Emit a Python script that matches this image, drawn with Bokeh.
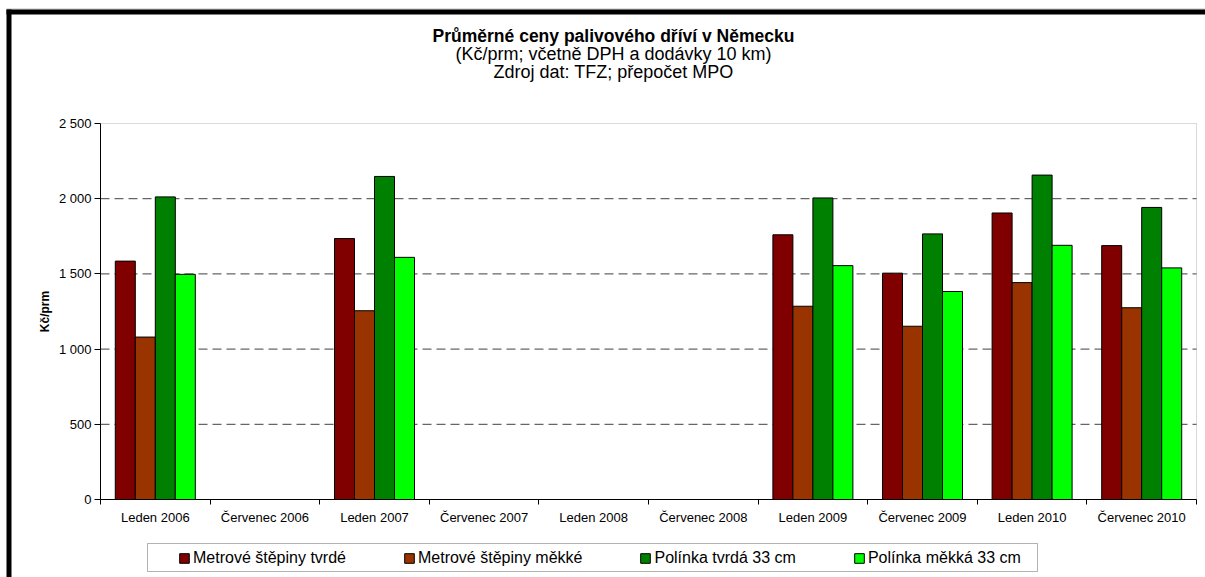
from bokeh.plotting import figure
from bokeh.models import (Range1d, FixedTicker, Label, BoxAnnotation, Legend,
                          LegendItem, ColumnDataSource)
from bokeh.transform import dodge
from bokeh.embed import file_html
from bokeh.resources import INLINE

NA = float("nan")

categories = ["Leden 2006", "Červenec 2006", "Leden 2007", "Červenec 2007",
              "Leden 2008", "Červenec 2008", "Leden 2009", "Červenec 2009",
              "Leden 2010", "Červenec 2010"]

series_names = ["Metrové štěpiny tvrdé", "Metrové štěpiny měkké",
                "Polínka tvrdá 33 cm", "Polínka měkká 33 cm"]

metrove_tvrde = [1585, NA, 1735, NA, NA, NA, 1760, 1505, 1905, 1688]
metrove_mekke = [1080, NA, 1255, NA, NA, NA, 1285, 1152, 1442, 1275]
polinka_tvrda = [2012, NA, 2148, NA, NA, NA, 2005, 1766, 2157, 1942]
polinka_mekka = [1497, NA, 1610, NA, NA, NA, 1555, 1383, 1690, 1540]

y_max = 2500
y_ticks = [0, 500, 1000, 1500, 2000, 2500]
y_tick_labels = ["0", "500", "1 000", "1 500", "2 000", "2 500"]
grid_values = [500, 1000, 1500, 2000]

colors = ["#800000", "#993300", "#008000", "#00FF00"]

title_lines = ["Průměrné ceny palivového dříví v Německu",
               "(Kč/prm; včetně DPH a dodávky 10 km)",
               "Zdroj dat: TFZ; přepočet MPO"]

FONT = "Liberation Sans"

# ---- layout (pixels) ----
W, H = 1205, 577
PL, PR, PT, PB = 100, 1196, 123, 499     # plot area edges

n = len(categories)
xu = n / (PR - PL)            # data units per pixel (x)
yu = y_max / (PB - PT)        # data units per pixel (y)
x_range = Range1d(-PL * xu, n + (W - PR) * xu)
y_range = Range1d(-(H - PB) * yu, y_max + PT * yu)

xc = [i + 0.5 for i in range(n)]
src = ColumnDataSource(dict(xc=xc, s0=metrove_tvrde, s1=metrove_mekke,
                            s2=polinka_tvrda, s3=polinka_mekka))

p = figure(width=W, height=H, output_backend="svg", toolbar_location=None,
           x_range=x_range, y_range=y_range,
           min_border_left=0, min_border_right=0, min_border_top=0,
           min_border_bottom=0)
p.background_fill_color = "white"
p.border_fill_color = "white"
p.outline_line_color = None
p.xgrid.visible = False
p.ygrid.visible = False

# plot-area border (grey) and dashed gridlines
p.add_layout(BoxAnnotation(left=0, right=n, bottom=0, top=y_max,
                           fill_alpha=0, line_color="#808080", line_width=1,
                           level="underlay"))
p.segment(x0=[0] * len(grid_values), x1=[n] * len(grid_values),
          y0=grid_values, y1=grid_values,
          line_color="#404040", line_width=1, line_dash="9 5")

bw = 0.1825
offsets = [-1.5 * bw, -0.5 * bw, 0.5 * bw, 1.5 * bw]
renderers = []
for k in range(4):
    r = p.vbar(x=dodge("xc", offsets[k]), top="s%d" % k, bottom=0, width=bw,
               source=src, fill_color=colors[k], line_color="black", line_width=1)
    renderers.append(r)

# axes, fixed at the plot-area edges
xa = p.xaxis[0]
xa.fixed_location = 0
xa.bounds = (0, n)
xa.ticker = FixedTicker(ticks=xc, minor_ticks=list(range(n + 1)))
xa.major_label_overrides = {x: c for x, c in zip(xc, categories)}
xa.major_tick_out = 0
xa.major_tick_in = 0
xa.minor_tick_out = 5
xa.minor_tick_in = 0
xa.minor_tick_line_color = "black"
xa.axis_line_color = "black"
xa.major_label_standoff = 5
xa.major_label_text_font = FONT
xa.major_label_text_font_size = "13px"
xa.major_label_text_color = "black"

ya = p.yaxis[0]
ya.fixed_location = 0
ya.bounds = (0, y_max)
ya.ticker = FixedTicker(ticks=y_ticks, minor_ticks=[])
ya.major_label_overrides = {t: l for t, l in zip(y_ticks, y_tick_labels)}
ya.major_tick_out = 6
ya.major_tick_in = 0
ya.major_tick_line_color = "black"
ya.axis_line_color = "black"
ya.major_label_standoff = 3
ya.major_label_text_font = FONT
ya.major_label_text_font_size = "13px"
ya.major_label_text_color = "black"
ya.axis_label = "Kč/prm"
ya.axis_label_text_font = FONT
ya.axis_label_text_font_size = "12px"
ya.axis_label_text_font_style = "bold"
ya.axis_label_text_color = "black"
ya.axis_label_standoff = 4

# titles
title_y = [35, 53, 71]
title_sizes = ["17.5px", "18px", "18px"]
for i, t in enumerate(title_lines):
    p.add_layout(Label(x=613, y=H - title_y[i], x_units="screen", y_units="screen",
                       text=t, text_align="center", text_baseline="middle",
                       text_font=FONT, text_font_size=title_sizes[i],
                       text_font_style="bold" if i == 0 else "normal",
                       text_color="black"))

# outer chart frame (only its top and left edges fall inside the picture)
p.add_layout(BoxAnnotation(left=6, right=W + 10, top=H - 8, bottom=H - 9,
                           left_units="screen", right_units="screen",
                           top_units="screen", bottom_units="screen",
                           fill_color="#c0c0c0", fill_alpha=1, line_alpha=0))
p.add_layout(BoxAnnotation(left=6, right=11, top=H - 9, bottom=-10,
                           left_units="screen", right_units="screen",
                           top_units="screen", bottom_units="screen",
                           fill_color="black", fill_alpha=1, line_alpha=0))
p.add_layout(BoxAnnotation(left=6, right=W + 10, top=H - 9, bottom=H - 14,
                           left_units="screen", right_units="screen",
                           top_units="screen", bottom_units="screen",
                           fill_color="black", fill_alpha=1, line_alpha=0))

# legend box
p.add_layout(BoxAnnotation(left=147, right=1037, top=H - 543, bottom=H - 571,
                           left_units="screen", right_units="screen",
                           top_units="screen", bottom_units="screen",
                           fill_alpha=0, line_color="black", line_width=1))

legend = Legend(items=[LegendItem(label=nm, renderers=[r]) for nm, r in zip(series_names, renderers)],
                orientation="horizontal", location=(178, 10),
                glyph_width=12, glyph_height=12, label_standoff=3, spacing=57,
                padding=0, margin=0, label_height=18,
                label_text_font=FONT, label_text_font_size="16px",
                label_text_color="black", border_line_alpha=0,
                background_fill_alpha=0)
p.add_layout(legend, "center")

open("out.html", "w").write(file_html(p, INLINE))
